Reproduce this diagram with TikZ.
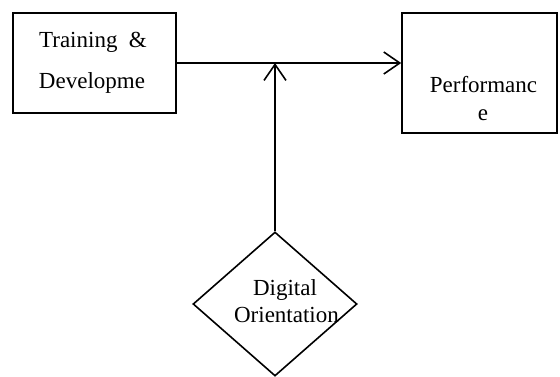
\documentclass[tikz,border=0pt]{standalone}
\usepackage{fontspec}
\setmainfont{Liberation Serif}
\usetikzlibrary{shapes.geometric,arrows.meta}
\begin{document}
\begin{tikzpicture}[x=1pt,y=-1pt,
  line width=1.6pt,
  boxshape/.style={draw,rectangle,inner sep=0pt},
  lbl/.style={anchor=base,inner sep=0pt,font=\fontsize{23}{27}\selectfont},
  arr/.style={-{Straight Barb[length=16pt,width=22pt,line width=1.6pt]}}]
\useasboundingbox (0,0) rectangle (560,376);
\clip (0,0) rectangle (560,376);
% boxes
\node[boxshape,minimum width=163pt,minimum height=100pt] (tr) at (94.5,63) {};
\node[boxshape,minimum width=155pt,minimum height=120pt] (pf) at (479.5,73) {};
\node[draw,diamond,minimum width=164pt,minimum height=144pt,inner sep=0pt] (dg) at (275,304) {};
% texts
\node[lbl] (t1) at (93,47) {Training\ \ \&};
\node[lbl] (t2) at (92,88) {Developme};
\node[lbl] (p1) at (483.5,92) {Performanc};
\node[lbl] (p2) at (483,120) {e};
\node[lbl] (d1) at (285,295) {Digital};
\node[lbl] (d2) at (286.5,322) {Orientation};
% connectors
\coordinate (j) at (dg.north |- tr.east);
\draw[arr] (tr.east) -- (tr.east -| pf.west);
\draw[arr] (dg.north) -- (j);
\end{tikzpicture}
\end{document}
